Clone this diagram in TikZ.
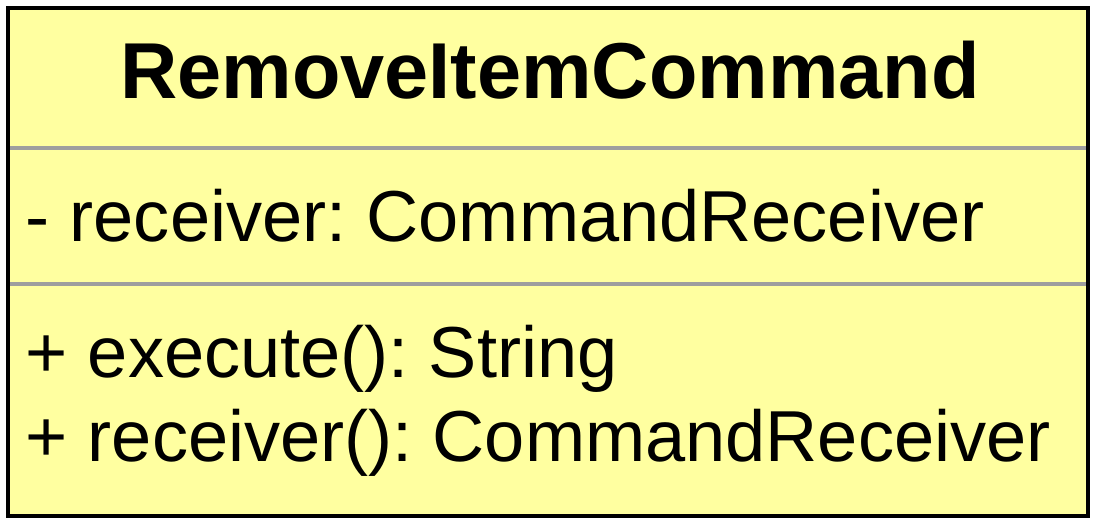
\documentclass[tikz,border=0pt]{standalone}
\usepackage{fontspec}
\setmainfont{Liberation Sans}
\frenchspacing
\definecolor{umlfill}{RGB}{255,255,160}
\definecolor{sepgray}{RGB}{158,158,158}
\tikzset{
  classbox/.style={draw=black, line width=4pt, fill=umlfill},
  sepline/.style={draw=sepgray, line width=3.5pt},
  titletext/.style={inner sep=0pt, anchor=base, font=\fontsize{79.3}{90}\selectfont\bfseries},
  membertext/.style={inner sep=0pt, anchor=base west, font=\fontsize{72.2}{80}\selectfont},
}
\begin{document}
\begin{tikzpicture}[x=1pt,y=1pt]
\useasboundingbox (0,0) rectangle (1098,526);
\draw[classbox] (8,10) rectangle (1088,518);
\coordinate (s1l) at (10,378);
\coordinate (s1r) at (1086,378);
\coordinate (s2l) at (10,242);
\coordinate (s2r) at (1086,242);
\draw[sepline] (s1l) -- (s1r);
\draw[sepline] (s2l) -- (s2r);
\node[titletext] (title) at (550,427) {RemoveItemCommand};
\node[membertext] (attr) at (25.5,284) {- receiver: CommandReceiver};
\node[membertext] (op1) at (25.5,148) {+ execute(): String};
\node[membertext] (op2) at (25.5,64) {+ receiver(): CommandReceiver};
\end{tikzpicture}
\end{document}
